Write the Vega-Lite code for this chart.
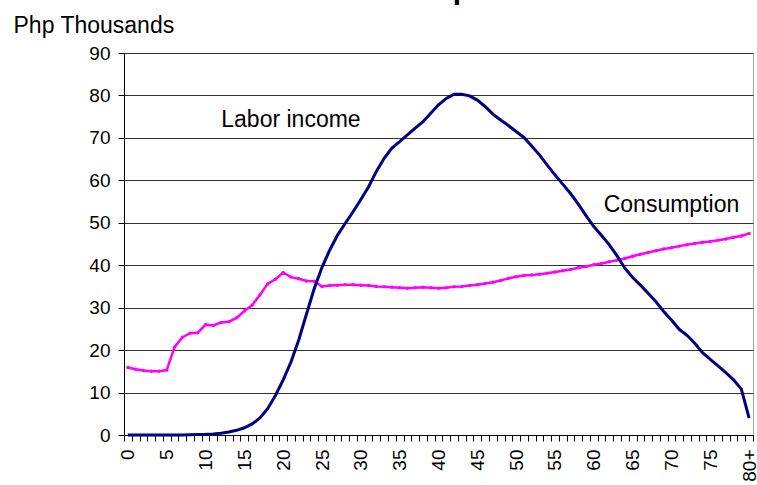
{
  "$schema": "https://vega.github.io/schema/vega-lite/v6.json",
  "autosize": {"type": "none"},
  "width": 629,
  "height": 382,
  "padding": {"left": 124, "top": 53, "right": 4, "bottom": 50},
  "background": "white",
  "config": {"font": "Liberation Sans", "view": {"stroke": "#a6a6a6", "strokeWidth": 1}},
  "title": {"text": "Labor Income and Consumption", "anchor": "start", "frame": "group", "fontSize": 30, "fontWeight": "bold", "color": "black", "baseline": "alphabetic", "offset": 3, "dx": -58, "dy": 18},
  "data": {"values": [
    {"age":0,"labor":0,"cons":15.9},{"age":1,"labor":0,"cons":15.5},{"age":2,"labor":0,"cons":15.2},{"age":3,"labor":0,"cons":15.0},{"age":4,"labor":0,"cons":15.0},
    {"age":5,"labor":0,"cons":15.3},{"age":6,"labor":0,"cons":20.7},{"age":7,"labor":0,"cons":23.0},{"age":8,"labor":0.05,"cons":24.0},{"age":9,"labor":0.1,"cons":24.1},
    {"age":10,"labor":0.15,"cons":26.0},{"age":11,"labor":0.25,"cons":25.8},{"age":12,"labor":0.4,"cons":26.5},{"age":13,"labor":0.7,"cons":26.7},{"age":14,"labor":1.1,"cons":27.6},
    {"age":15,"labor":1.7,"cons":29.2},{"age":16,"labor":2.6,"cons":30.6},{"age":17,"labor":4.0,"cons":33.0},{"age":18,"labor":6.2,"cons":35.6},{"age":19,"labor":9.3,"cons":36.7},
    {"age":20,"labor":13.0,"cons":38.3},{"age":21,"labor":17.2,"cons":37.2},{"age":22,"labor":22.4,"cons":36.8},{"age":23,"labor":28.5,"cons":36.3},{"age":24,"labor":34.5,"cons":36.2},
    {"age":25,"labor":39.5,"cons":35.0},{"age":26,"labor":43.6,"cons":35.2},{"age":27,"labor":47.1,"cons":35.3},{"age":28,"labor":49.9,"cons":35.4},{"age":29,"labor":52.6,"cons":35.4},
    {"age":30,"labor":55.5,"cons":35.3},{"age":31,"labor":58.5,"cons":35.2},{"age":32,"labor":62.1,"cons":35.0},{"age":33,"labor":65.2,"cons":34.9},{"age":34,"labor":67.6,"cons":34.8},
    {"age":35,"labor":69.1,"cons":34.7},{"age":36,"labor":70.7,"cons":34.6},{"age":37,"labor":72.3,"cons":34.7},{"age":38,"labor":73.8,"cons":34.8},{"age":39,"labor":75.8,"cons":34.7},
    {"age":40,"labor":77.8,"cons":34.6},{"age":41,"labor":79.3,"cons":34.7},{"age":42,"labor":80.3,"cons":34.9},{"age":43,"labor":80.3,"cons":35.0},{"age":44,"labor":79.9,"cons":35.2},
    {"age":45,"labor":78.9,"cons":35.4},{"age":46,"labor":77.4,"cons":35.7},{"age":47,"labor":75.6,"cons":36.0},{"age":48,"labor":74.2,"cons":36.4},{"age":49,"labor":72.9,"cons":36.9},
    {"age":50,"labor":71.5,"cons":37.3},{"age":51,"labor":70.1,"cons":37.6},{"age":52,"labor":68.1,"cons":37.7},{"age":53,"labor":66.0,"cons":37.9},{"age":54,"labor":63.6,"cons":38.1},
    {"age":55,"labor":61.3,"cons":38.4},{"age":56,"labor":59.1,"cons":38.7},{"age":57,"labor":56.9,"cons":39.0},{"age":58,"labor":54.4,"cons":39.4},{"age":59,"labor":51.7,"cons":39.7},
    {"age":60,"labor":49.1,"cons":40.1},{"age":61,"labor":47.0,"cons":40.4},{"age":62,"labor":44.8,"cons":40.8},{"age":63,"labor":42.2,"cons":41.2},{"age":64,"labor":39.3,"cons":41.6},
    {"age":65,"labor":37.1,"cons":42.1},{"age":66,"labor":35.3,"cons":42.6},{"age":67,"labor":33.4,"cons":43.0},{"age":68,"labor":31.4,"cons":43.4},{"age":69,"labor":29.1,"cons":43.8},
    {"age":70,"labor":27.1,"cons":44.1},{"age":71,"labor":24.9,"cons":44.5},{"age":72,"labor":23.5,"cons":44.8},{"age":73,"labor":21.6,"cons":45.1},{"age":74,"labor":19.4,"cons":45.4},
    {"age":75,"labor":17.8,"cons":45.6},{"age":76,"labor":16.3,"cons":45.9},{"age":77,"labor":14.7,"cons":46.2},{"age":78,"labor":13.0,"cons":46.6},{"age":79,"labor":10.8,"cons":46.9},
    {"age":80,"labor":4.0,"cons":47.5}
  ]},
  "encoding": {
    "x": {"field": "age", "type": "ordinal", "scale": {"paddingInner": 0, "paddingOuter": 0},
      "axis": {"title": null, "labelExpr": "datum.value % 5 === 0 ? (datum.value === 80 ? '80+' : datum.label) : ''",
        "labelAngle": -90, "labelFontSize": 19, "labelColor": "black", "labelPadding": 8, "tickBand": "extent",
        "tickSize": 6, "tickColor": "black", "domainColor": "black", "labelOverlap": false, "grid": false}}
  },
  "layer": [
    {
      "mark": {"type": "line", "color": "#ff00ff", "strokeWidth": 2.5, "point": {"filled": true, "size": 12, "color": "#ff00ff"}},
      "encoding": {
        "y": {"field": "cons", "type": "quantitative", "scale": {"domain": [0, 90], "nice": false},
          "axis": {"values": [0,10,20,30,40,50,60,70,80,90], "title": "Php Thousands", "titleAngle": 0, "titleAlign": "left",
            "titleBaseline": "alphabetic", "titleX": -111, "titleY": -21, "titleFontSize": 23, "titleFontWeight": "normal",
            "titleColor": "black", "labelFontSize": 19, "labelColor": "black", "labelPadding": 8, "tickSize": 6,
            "tickColor": "black", "domainColor": "black", "gridColor": "#333333", "gridOpacity": 1}}
      }
    },
    {
      "mark": {"type": "line", "color": "#000080", "strokeWidth": 3},
      "encoding": {"y": {"field": "labor", "type": "quantitative"}}
    },
    {
      "data": {"values": [{"age": 21, "v": 72.6, "t": "Labor income"}, {"age": 70, "v": 52.5, "t": "Consumption"}]},
      "mark": {"type": "text", "fontSize": 23, "baseline": "alphabetic", "align": "center", "color": "black"},
      "encoding": {"y": {"field": "v", "type": "quantitative"}, "text": {"field": "t"}}
    }
  ]
}
